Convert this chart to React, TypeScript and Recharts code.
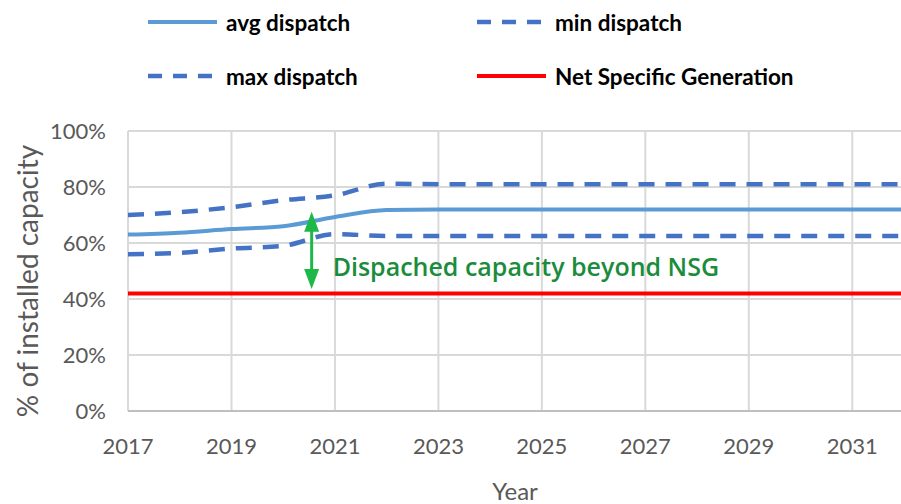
import React from 'react';
import {
  LineChart,
  Line,
  XAxis,
  YAxis,
  CartesianGrid,
  Legend,
  ReferenceLine,
  ReferenceDot,
} from 'recharts';

// values, % of installed capacity
const years = [2017, 2018, 2019, 2020, 2021, 2022, 2023, 2024, 2025, 2026, 2027, 2028, 2029, 2030, 2031, 2032];
const avgDispatch = [63, 63.7, 65, 66, 69.3, 71.8, 72, 72, 72, 72, 72, 72, 72, 72, 72, 72];
const minDispatch = [56, 56.5, 58, 59, 63.2, 62.5, 62.5, 62.5, 62.5, 62.5, 62.5, 62.5, 62.5, 62.5, 62.5, 62.5];
const maxDispatch = [70, 71, 72.8, 75.3, 77, 81.2, 81, 81, 81, 81, 81, 81, 81, 81, 81, 81];
const netSpecificGeneration = [42, 42, 42, 42, 42, 42, 42, 42, 42, 42, 42, 42, 42, 42, 42, 42];

const xTicks = [2017, 2019, 2021, 2023, 2025, 2027, 2029, 2031];
const yTicks = [0, 20, 40, 60, 80, 100];

// arrow annotation (year, % range)
const arrowYear = 2020.55;
const arrowFrom = 43.6;
const arrowTo = 71.2;
const noteText = 'Dispached capacity beyond NSG';
const noteLevel = 51.8;

const data = years.map((year, i) => ({
  year,
  avg: avgDispatch[i],
  min: minDispatch[i],
  max: maxDispatch[i],
  nsg: netSpecificGeneration[i],
}));

const series = [
  { key: 'avg', name: 'avg dispatch', color: '#5b9bd5', dash: undefined, width: 4 },
  { key: 'min', name: 'min dispatch', color: '#4472c4', dash: '16 11', width: 4.5 },
  { key: 'max', name: 'max dispatch', color: '#4472c4', dash: '16 11', width: 4.5 },
  { key: 'nsg', name: 'Net Specific Generation', color: '#ff0000', dash: undefined, width: 4 },
];

const tickFont = { fontFamily: 'Lato, sans-serif', fontSize: 22, fill: '#595959' };

function LegendBox() {
  const cols = [148, 477];
  const rows = [22, 76];
  return (
    <svg width={901} height={100} style={{ display: 'block' }}>
      {series.map((s, i) => {
        const x = cols[i % 2];
        const y = rows[Math.floor(i / 2)];
        return (
          <g key={s.key}>
            <line
              x1={x}
              y1={y}
              x2={x + 69}
              y2={y}
              stroke={s.color}
              strokeWidth={s.width}
              strokeDasharray={s.dash ? '14 11' : undefined}
            />
            <text
              x={x + 78}
              y={y}
              dominantBaseline="central"
              fontFamily="Lato, sans-serif"
              fontWeight="bold"
              fontSize={22.5}
              fill="#000"
            >
              {s.name}
            </text>
          </g>
        );
      })}
    </svg>
  );
}

function ArrowShape(props: any) {
  const x = props.x1;
  const top = Math.min(props.y1, props.y2);
  const bottom = Math.max(props.y1, props.y2);
  const head = 20;
  const half = 7.5;
  const green = '#1db847';
  return (
    <g>
      <line x1={x} y1={top + head - 2} x2={x} y2={bottom - head + 2} stroke={green} strokeWidth={3} />
      <polygon points={`${x},${top} ${x - half},${top + head} ${x + half},${top + head}`} fill={green} />
      <polygon points={`${x},${bottom} ${x - half},${bottom - head} ${x + half},${bottom - head}`} fill={green} />
    </g>
  );
}

function NoteShape(props: any) {
  return (
    <text
      x={props.cx + 21}
      y={props.cy}
      dominantBaseline="central"
      fontFamily="'Open Sans', sans-serif"
      fontWeight={600}
      fontSize={25}
      fill="#1a8c3b"
    >
      {noteText}
    </text>
  );
}

function YTitle(props: any) {
  const vb = props.viewBox;
  const cx = vb.x + 27;
  const cy = vb.y + vb.height / 2 + 10;
  return (
    <text
      x={cx}
      y={cy}
      transform={`rotate(-90, ${cx}, ${cy})`}
      textAnchor="middle"
      dominantBaseline="central"
      fontFamily="Lato, sans-serif"
      fontSize={28}
      fill="#595959"
    >
      % of installed capacity
    </text>
  );
}

function XTitle(props: any) {
  const vb = props.viewBox;
  return (
    <text
      x={vb.x + vb.width / 2 - 1}
      y={500}
      textAnchor="middle"
      fontFamily="Lato, sans-serif"
      fontSize={24}
      fill="#595959"
    >
      Year
    </text>
  );
}

export default function App() {
  return (
    <div style={{ width: 901, height: 504, overflow: 'hidden', background: '#fff' }}>
      <style>{'body{margin:0}'}</style>
      <LineChart
        width={904}
        height={504}
        data={data}
        margin={{ top: 31, right: 0, bottom: 0, left: 0 }}
      >
        <Legend
          verticalAlign="top"
          align="left"
          wrapperStyle={{ top: 0, left: 0, width: 901, height: 100 }}
          content={() => <LegendBox />}
        />
        <CartesianGrid stroke="#d9d9d9" strokeWidth={2} />
        <XAxis
          dataKey="year"
          type="number"
          domain={[2017, 2032]}
          ticks={xTicks}
          tick={tickFont}
          tickLine={false}
          tickSize={0}
          tickMargin={27}
          axisLine={{ stroke: '#bfbfbf', strokeWidth: 2 }}
          height={93}
          label={XTitle}
        />
        <YAxis
          type="number"
          domain={[0, 100]}
          ticks={yTicks}
          tickFormatter={(v) => `${v}%`}
          tick={tickFont}
          tickLine={false}
          tickSize={0}
          tickMargin={22}
          axisLine={false}
          width={128}
          label={YTitle}
        />
        {series.map((s) => (
          <Line
            key={s.key}
            dataKey={s.key}
            name={s.name}
            type="monotone"
            stroke={s.color}
            strokeWidth={s.width}
            strokeDasharray={s.dash}
            dot={false}
            activeDot={false}
            isAnimationActive={false}
          />
        ))}
        <ReferenceLine
          segment={[
            { x: arrowYear, y: arrowFrom },
            { x: arrowYear, y: arrowTo },
          ]}
          shape={ArrowShape}
        />
        <ReferenceDot x={arrowYear} y={noteLevel} r={0} shape={NoteShape} />
      </LineChart>
    </div>
  );
}
